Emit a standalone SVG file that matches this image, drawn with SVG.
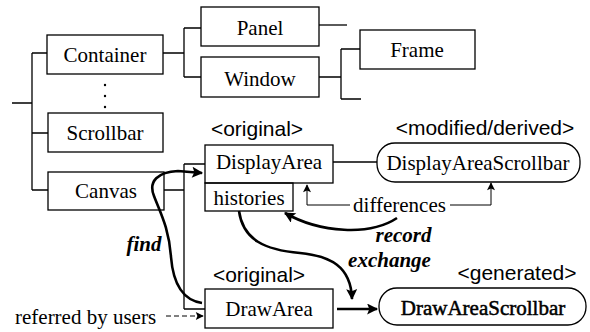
<svg xmlns="http://www.w3.org/2000/svg" width="590" height="332" viewBox="0 0 590 332">
<style>
.box{fill:none;stroke:#000;stroke-width:1.3}
.ln{fill:none;stroke:#000;stroke-width:1.3}
.thin{fill:none;stroke:#000;stroke-width:1}
.thick{fill:none;stroke:#000;stroke-width:2.6}
.t{font-family:"Liberation Serif","Times New Roman",serif;font-size:21px;fill:#000;text-anchor:middle}
.s{font-family:"Liberation Sans",Arial,sans-serif;font-size:21px;fill:#000;text-anchor:middle}
.bi{font-family:"Liberation Serif","Times New Roman",serif;font-size:21px;font-weight:bold;font-style:italic;fill:#000;text-anchor:middle}
</style>
<defs>
<marker id="ah" viewBox="0 0 10 10" refX="9" refY="5" markerWidth="14" markerHeight="11" markerUnits="userSpaceOnUse" orient="auto">
<path d="M0,0 L10,5 L0,10 L2,5 Z" fill="#000"/>
</marker>
<marker id="ahs" viewBox="0 0 10 10" refX="9" refY="5" markerWidth="10" markerHeight="8" markerUnits="userSpaceOnUse" orient="auto">
<path d="M0,0 L10,5 L0,10 L2,5 Z" fill="#000"/>
</marker>
</defs>
<g id="connectors">
<path class="ln" d="M12,103 H32 M32,53 V190 M32,53 H47 M32,133 H48 M32,190 H48"/>
<path class="ln" d="M163,53 H184 M184,28 V77 M184,28 H201 M184,77 H201"/>
<path class="ln" d="M319,25 H347"/>
<path class="ln" d="M319,77 H341 M341,49 V99 M341,49 H360 M341,99 H361"/>
<path class="ln" d="M164,190 H184 M184,164 V309 M184,164 H205 M184,309 H205"/>
<path class="ln" d="M333,162 H377"/>
<path class="thin" d="M350,205 H307 V185" marker-end="url(#ahs)"/>
<path class="thin" d="M450,205 H491 V183" marker-end="url(#ahs)"/>
<path class="thick" d="M202,303 C182,300 173,282 171,257 C169,228 160,212 154,196 C148,181 158,172 178,171 L202,173" marker-end="url(#ah)"/>
<path class="thick" d="M397,218 C370,236 320,233 285,213" marker-end="url(#ah)"/>
<path class="thick" d="M239,211 C243,240 265,250 300,253 C330,256 351,266 352,299" marker-end="url(#ah)"/>
<path class="thick" d="M337,309 H377" marker-end="url(#ah)"/>
<path class="thin" d="M166,316 H203" stroke-dasharray="5,3" marker-end="url(#ahs)"/>
</g>
<g id="dots">
<circle cx="105" cy="85" r="1.2"/>
<circle cx="105" cy="96" r="1.2"/>
<circle cx="105" cy="107" r="1.2"/>
</g>
<g id="container"><rect class="box" x="47" y="35" width="116" height="39"/><text class="t" x="105" y="62">Container</text></g>
<g id="panel"><rect class="box" x="201" y="7" width="118" height="39"/><text class="t" x="260" y="35">Panel</text></g>
<g id="window"><rect class="box" x="201" y="57" width="118" height="40"/><text class="t" x="260" y="86">Window</text></g>
<g id="frame"><rect class="box" x="360" y="30" width="115" height="39"/><text class="t" x="417" y="57">Frame</text></g>
<g id="scrollbar"><rect class="box" x="48" y="113" width="115" height="39"/><text class="t" x="105" y="140">Scrollbar</text></g>
<g id="canvas"><rect class="box" x="48" y="172" width="116" height="38"/><text class="t" x="106" y="198">Canvas</text></g>
<g id="displayarea">
<text class="s" x="257" y="136">&lt;original&gt;</text>
<rect class="box" x="205" y="145" width="128" height="38"/><text class="t" x="269" y="169">DisplayArea</text>
</g>
<g id="histories"><rect class="box" x="205" y="183" width="88" height="28"/><text class="t" x="249" y="205">histories</text></g>
<g id="displayareascrollbar">
<text class="s" x="485" y="135">&lt;modified/derived&gt;</text>
<rect class="box" x="377" y="143" width="203" height="39" rx="18"/><text class="t" x="478" y="170">DisplayAreaScrollbar</text>
</g>
<g id="drawarea">
<text class="s" x="259" y="282">&lt;original&gt;</text>
<rect class="box" x="205" y="289" width="128" height="39"/><text class="t" x="269" y="316">DrawArea</text>
</g>
<g id="drawareascrollbar">
<text class="s" x="517" y="280">&lt;generated&gt;</text>
<rect class="box" x="379" y="288" width="207" height="37" rx="18" stroke-width="1.6"/><text class="t" x="483" y="315" stroke="#000" stroke-width="0.5">DrawAreaScrollbar</text>
</g>
<g id="labels">
<text class="t" x="399.5" y="212">differences</text>
<text class="bi" x="403.5" y="242">record</text>
<text class="bi" x="389.5" y="267">exchange</text>
<text class="bi" x="144" y="251">find</text>
<text class="t" x="15" y="324" style="text-anchor:start">referred by users</text>
</g>
</svg>
